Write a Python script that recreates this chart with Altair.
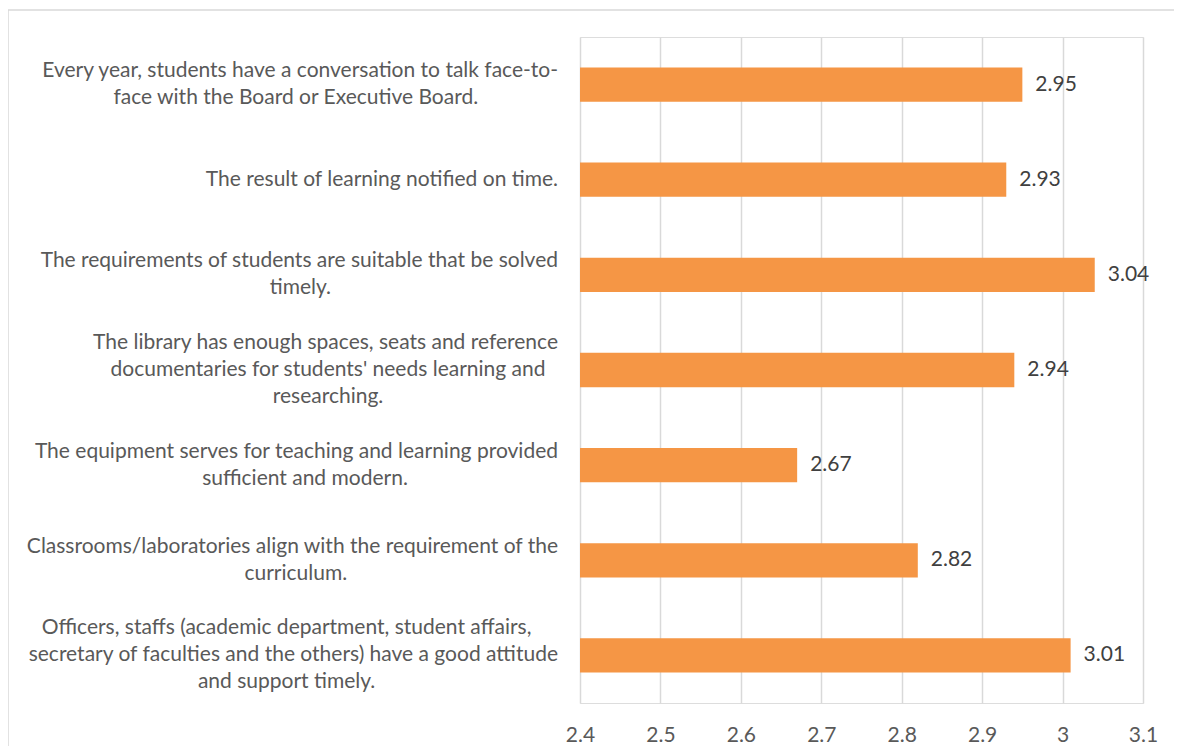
import altair as alt
import pandas as pd

categories = [
    "Every year, students have a conversation to talk face-to-|face with the Board or Executive Board.",
    "The result of learning notified on time.",
    "The requirements of students are suitable that be solved|timely.",
    "The library has enough spaces, seats and reference|documentaries for students' needs learning and|researching.",
    "The equipment serves for teaching and learning provided|sufficient and modern.",
    "Classrooms/laboratories align with the requirement of the|curriculum.",
    "Officers, staffs (academic department, student affairs,|secretary of faculties and the others) have a good attitude|and support timely.",
]
values = [2.95, 2.93, 3.04, 2.94, 2.67, 2.82, 3.01]
x_ticks = [2.4, 2.5, 2.6, 2.7, 2.8, 2.9, 3.0, 3.1]

df = pd.DataFrame({"item": categories, "score": values})

FONT = "Lato"
FS = 21
TXT = "#595959"
W, H = 563, 666
PAD_INNER = 0.64
LINE_H = 27
LABEL_GAP = 22
CHAR_W = 9.2  # approx. average glyph width of the label font
# yOffset is measured from the top of the bar band; shift to its centre
BAND_HALF = (H / (len(categories) - PAD_INNER + 2 * PAD_INNER / 2)) * (1 - PAD_INNER) / 2

# one row per text line of each category label (multi-line labels: centred lines)
rows = []
for item in categories:
    lines = item.split("|")
    n = len(lines)
    maxlen = max(len(s) for s in lines)
    for i, s in enumerate(lines):
        rows.append({
            "item": item,
            "line": s,
            "widest": len(s) == maxlen,
            "dy": BAND_HALF + (i - (n - 1) / 2) * LINE_H,
            "cx": -LABEL_GAP - maxlen * CHAR_W / 2,
        })
lab = pd.DataFrame(rows)

y_enc = alt.Y(
    "item:N",
    sort=None,
    scale=alt.Scale(paddingInner=PAD_INNER, paddingOuter=PAD_INNER / 2),
    axis=None,
)
x_enc = alt.X(
    "score:Q",
    scale=alt.Scale(domain=[2.4, 3.1], zero=False, nice=False),
    axis=alt.Axis(
        title=None,
        values=x_ticks,
        format="~g",
        ticks=False,
        domain=False,
        grid=True,
        gridColor="#D9D9D9",
        gridWidth=1.5,
        labelFont=FONT,
        labelFontSize=FS,
        labelColor=TXT,
        labelPadding=21,
        labelFlush=False,
        labelOverlap=False,
    ),
)

base = alt.Chart(df)

bars = base.mark_bar(color="#F59645").encode(
    y=y_enc,
    x=x_enc,
    x2=alt.X2(datum=2.4),
)

values_text = base.mark_text(
    align="left", baseline="middle", dx=13, font=FONT, fontSize=FS, color="#404040"
).encode(
    y=alt.Y("item:N", sort=None),
    x=alt.X("score:Q"),
    text=alt.Text("score:Q", format=".2f"),
)

lab_base = alt.Chart(lab)
widest_text = lab_base.transform_filter("datum.widest").mark_text(
    align="right", baseline="middle", font=FONT, fontSize=FS, color=TXT,
).encode(
    y=alt.Y("item:N", sort=None),
    yOffset=alt.YOffset("dy:Q", scale=None),
    x=alt.value(-LABEL_GAP),
    text="line:N",
)
other_text = lab_base.transform_filter("!datum.widest").mark_text(
    align="center", baseline="middle", font=FONT, fontSize=FS, color=TXT,
).encode(
    y=alt.Y("item:N", sort=None),
    yOffset=alt.YOffset("dy:Q", scale=None),
    x=alt.X("cx:Q", scale=None),
    text="line:N",
)

frame = alt.Chart(pd.DataFrame({"a": [0]})).mark_rect(
    fill=None, stroke="#D9D9D9", strokeWidth=1.5
).encode(
    x=alt.value(-572),
    x2=alt.value(W + 80),
    y=alt.value(-27),
    y2=alt.value(H + 80),
)

chart = (
    alt.layer(frame, bars, values_text, widest_text, other_text)
    .properties(
        width=W,
        height=H,
        autosize=alt.AutoSizeParams(type="none"),
        padding={"left": 572, "top": 29, "right": 31, "bottom": 43},
    )
    .configure_view(stroke=None)
    .configure(background="white")
)

chart.save("out.html", embed_options={"renderer": "svg", "actions": False})
